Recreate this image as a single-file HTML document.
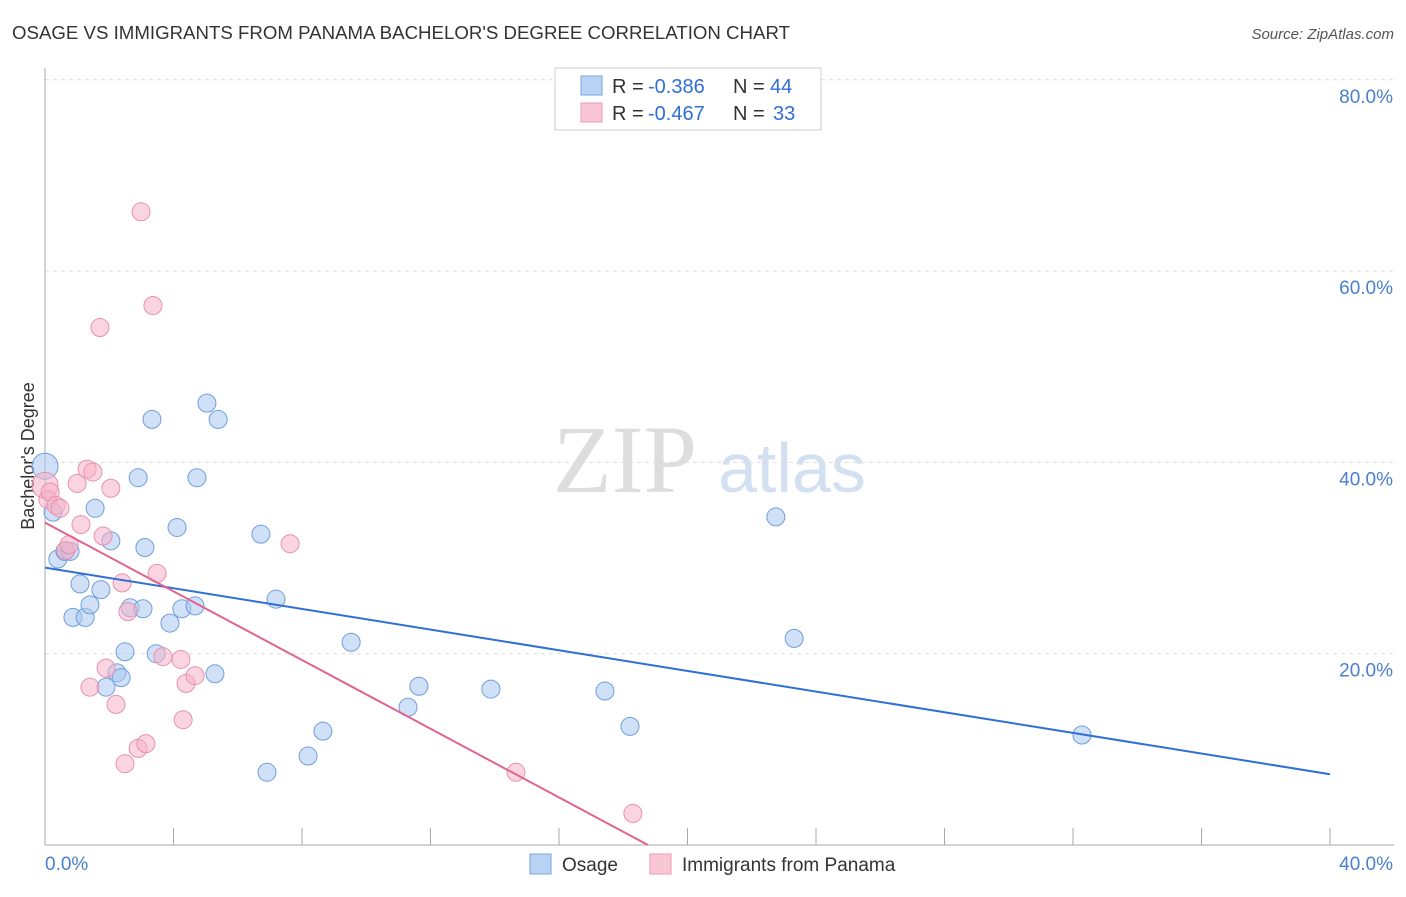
<!DOCTYPE html>
<html><head><meta charset="utf-8"><style>
body{margin:0;background:#fff;font-family:"Liberation Sans",sans-serif}
</style></head><body>
<svg id="c" width="1406" height="892" xmlns="http://www.w3.org/2000/svg">
<text x="12" y="39" font-size="18" fill="#333" textLength="778" lengthAdjust="spacingAndGlyphs">OSAGE VS IMMIGRANTS FROM PANAMA BACHELOR'S DEGREE CORRELATION CHART</text>
<text x="1394" y="39" font-size="15" fill="#555" font-style="italic" text-anchor="end">Source: ZipAtlas.com</text>
<text x="553" y="492" font-size="96" fill="#ddd" font-family="Liberation Serif">ZIP</text>
<text x="718" y="492" font-size="70" fill="#d3e0f2">atlas</text>
<text x="34" y="456" font-size="18" fill="#333" transform="rotate(-90 34 456)" text-anchor="middle">Bachelor's Degree</text>
<g id="grid"></g><g id="pts"></g><g id="lines"></g>
<g>
<rect x="555" y="68" width="266" height="62" fill="#fff" stroke="#ccc"/>
<rect x="581" y="76" width="21" height="19" fill="#b9d3f5" stroke="#7aa6e0"/>
<rect x="581" y="103" width="21" height="19" fill="#f9c6d6" stroke="#ec9ab5"/>
<text y="93" font-size="20" fill="#333"><tspan x="612">R =</tspan><tspan x="648" fill="#2f6fd6">-0.386</tspan><tspan x="733">N =</tspan><tspan x="770" fill="#2f6fd6">44</tspan></text>
<text y="120" font-size="20" fill="#333"><tspan x="612">R =</tspan><tspan x="648" fill="#2f6fd6">-0.467</tspan><tspan x="733">N =</tspan><tspan x="773" fill="#2f6fd6">33</tspan></text>
</g>
<g>
<rect x="530" y="854" width="21" height="20" fill="#b9d3f5" stroke="#7aa6e0"/>
<text x="562" y="871" font-size="19" fill="#333">Osage</text>
<rect x="650" y="854" width="21" height="20" fill="#f9c6d6" stroke="#ec9ab5"/>
<text x="682" y="871" font-size="19" fill="#333">Immigrants from Panama</text>
</g>
</svg>
<script>
const osageX=[0.0,0.25,0.40,0.62,0.78,0.87,1.09,1.25,1.40,1.56,1.74,1.90,2.05,2.24,2.37,2.49,2.65,2.90,3.05,3.11,3.33,3.46,3.89,4.11,4.26,4.67,4.73,5.04,5.29,5.39,6.72,6.91,7.19,8.19,8.65,9.53,11.30,11.64,13.88,17.43,18.21,22.75,23.32,32.28];
const osageY=[39.6,34.8,29.9,30.7,30.7,23.8,27.3,23.8,25.1,35.2,26.7,16.5,31.8,18.0,17.5,20.2,24.8,38.4,24.7,31.1,44.5,20.0,23.2,33.2,24.7,25.0,38.4,46.2,17.9,44.5,32.5,7.6,25.7,9.3,11.9,21.2,14.4,16.6,16.3,16.1,12.4,34.3,21.6,11.5];
const panX=[0.0,0.09,0.16,0.34,0.47,0.65,0.75,1.00,1.12,1.31,1.40,1.49,1.71,1.81,1.90,2.05,2.21,2.40,2.49,2.58,2.90,2.99,3.14,3.36,3.49,3.67,4.23,4.30,4.39,4.67,7.63,14.66,18.30];
const panY=[37.6,36.1,36.9,35.5,35.2,30.8,31.4,37.8,33.5,39.3,16.5,39.0,54.1,32.3,18.5,37.3,14.7,27.4,8.5,24.4,10.1,66.2,10.6,56.4,28.4,19.7,19.4,13.1,16.9,17.7,31.5,7.6,3.3];
const osageTrend=[[0,29.0],[40,7.4]];
const panTrend=[[0,33.7],[18.77,0]];
const yTicks=[20,40,60,80];
const xTickVals=[0,4,8,12,16,20,24,28,32,36,40];
const NS="http://www.w3.org/2000/svg";
const sx=v=>45+v/40*1285, sy=v=>845-v/20*191.3;
function mk(t,a,p){const e=document.createElementNS(NS,t);for(const k in a)e.setAttribute(k,a[k]);p.appendChild(e);return e;}
const g=document.getElementById('grid');
yTicks.forEach(t=>{const l=mk('line',{x1:45,x2:1394,y1:sy(t),y2:sy(t),stroke:'#ddd','stroke-dasharray':'4,4'},g);


const tx=mk('text',{x:1393,y:sy(t)+23,'font-size':19,fill:'#4a7fd0','text-anchor':'end'},g);tx.textContent=t.toFixed(1)+'%';

});
const ax=mk('line',{x1:45,x2:1394,y1:845,y2:845,stroke:'#aaa'},g);


const ay=mk('line',{x1:45,x2:45,y1:68,y2:845,stroke:'#aaa'},g);


xTickVals.forEach(t=>{const l=mk('line',{x1:sx(t),x2:sx(t),y1:828,y2:845,stroke:'#aaa'},g);

});
[[0,'start','0.0%'],[40,'end','40.0%']].forEach(([v,a,s])=>{const tx=mk('text',{x:sx(v)+(a=='end'?63:0),y:870,'font-size':19,fill:'#4a7fd0','text-anchor':a},g);tx.textContent=s;

});
const p=document.getElementById('pts');
function dots(X,Y,fill,stroke,name){X.forEach((x,i)=>{const r=i==0?13:9;const c=mk('circle',{cx:sx(x),cy:sy(Y[i]),r:r,fill:fill,'fill-opacity':0.55,stroke:stroke,'stroke-width':1},p);

});}
dots(osageX,osageY,'#a9c8f0','#6f9edc','osage-point');
dots(panX,panY,'#f5b3c8','#e890ae','panama-point');
const L=document.getElementById('lines');
const t1=mk('line',{x1:sx(osageTrend[0][0]),y1:sy(osageTrend[0][1]),x2:sx(osageTrend[1][0]),y2:sy(osageTrend[1][1]),stroke:'#2f6fd6','stroke-width':2},L);


const t2=mk('line',{x1:sx(panTrend[0][0]),y1:sy(panTrend[0][1]),x2:sx(panTrend[1][0]),y2:sy(panTrend[1][1]),stroke:'#e0648f','stroke-width':2},L);


</script>
</body></html>
